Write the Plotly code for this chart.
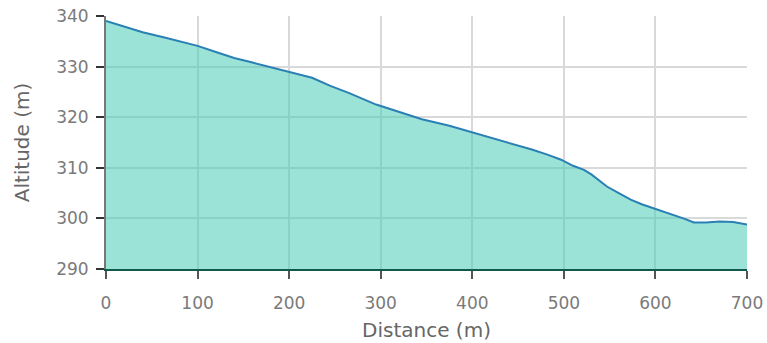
import plotly.graph_objects as go

distance = [0, 20, 40, 65, 100, 120, 140, 160, 180, 200, 225, 245, 265, 295, 320, 345,
            375, 400, 425, 445, 465, 482, 497, 510, 522, 530, 547, 560, 573, 585, 598,
            610, 620, 632, 642, 655, 670, 685, 700]
altitude = [339.0, 337.9, 336.8, 335.7, 334.1, 332.9, 331.7, 330.8, 329.9, 329.0, 327.8,
            326.2, 324.8, 322.5, 321.0, 319.6, 318.3, 317.0, 315.7, 314.7, 313.6, 312.6,
            311.6, 310.4, 309.6, 308.7, 306.3, 305.0, 303.7, 302.8, 302.0, 301.4, 300.7,
            299.9, 299.2, 299.2, 299.4, 299.3, 298.8]
x_ticks = [0, 100, 200, 300, 400, 500, 600, 700]
y_ticks = [290, 300, 310, 320, 330, 340]

fig = go.Figure()
fig.add_trace(go.Scatter(
    x=distance, y=altitude, mode="lines",
    line=dict(color="#2a80b4", width=2),
    fill="tozeroy", fillcolor="rgba(71,204,180,0.55)",
    hoverinfo="skip", showlegend=False,
))

font = dict(family="DejaVu Sans, Verdana, sans-serif", size=17, color="#7a7a7a")
fig.update_layout(
    width=767, height=343,
    margin=dict(l=106, r=20, t=16, b=74, autoexpand=False),
    paper_bgcolor="white", plot_bgcolor="white",
    font=font,
    xaxis=dict(
        range=[0, 700], tickvals=x_ticks, ticks="outside", ticklen=8, tickwidth=2,
        tickcolor="#555555", showgrid=True, gridcolor="#d9d9d9", gridwidth=2,
        showline=True, linecolor="#0f5a4c", linewidth=2, zeroline=False,
        ticklabelstandoff=10,
        title=dict(text="Distance (m)", standoff=11, font=dict(size=20, color="#666666")),
        automargin=False,
    ),
    yaxis=dict(
        range=[290, 340], tickvals=y_ticks, ticks="outside", ticklen=8, tickwidth=2,
        tickcolor="#333333", showgrid=True, gridcolor="#d9d9d9", gridwidth=2,
        showline=True, linecolor="#777777", linewidth=2, zeroline=False,
        ticklabelstandoff=4,
        title=dict(text="Altitude (m)", standoff=21, font=dict(size=20, color="#666666")),
        automargin=False,
    ),
)
fig.write_html("out.html", config={"displayModeBar": False},
               post_script="document.body.style.margin='0';")
